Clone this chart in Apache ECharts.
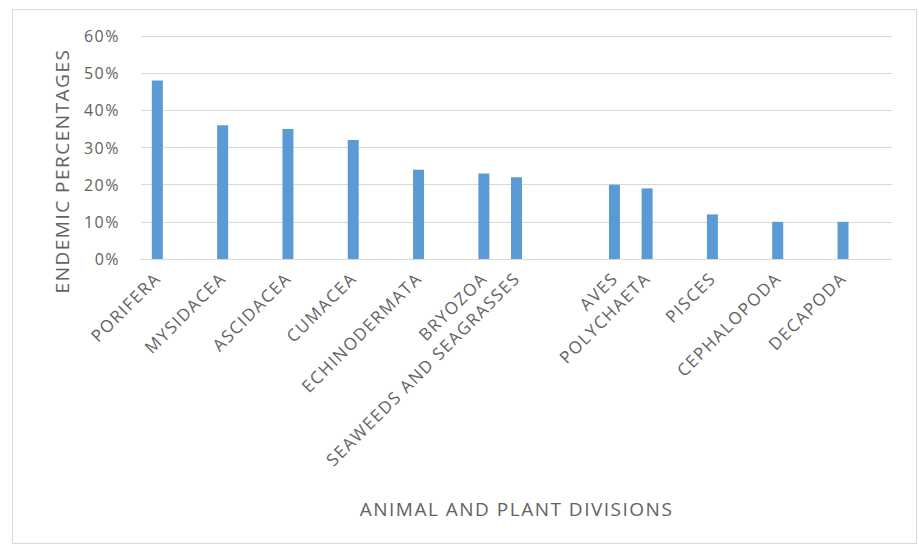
<!DOCTYPE html>
<html>
<head>
<meta charset="utf-8">
<script src="https://cdn.jsdelivr.net/npm/echarts@6/dist/echarts.min.js"></script>
<style>
  html, body { margin: 0; padding: 0; background: #fff; }
  #chart { width: 919px; height: 550px; }
  /* slightly tracked lettering for all chart text */
  #chart svg text { letter-spacing: 1.5px; }
</style>
</head>
<body>
<div id="chart"></div>
<script>
// Divisions in plotting order; blank entries are empty slots on the axis
const divisions = [
  'PORIFERA', '', 'MYSIDACEA', '', 'ASCIDACEA', '', 'CUMACEA', '', 'ECHINODERMATA', '',
  'BRYOZOA', 'SEAWEEDS AND SEAGRASSES', '', '', 'AVES', 'POLYCHAETA', '', 'PISCES', '',
  'CEPHALOPODA', '', 'DECAPODA', ''
];
// Endemic share (%) per division; null for empty slots
const endemicPct = [
  48, null, 36, null, 35, null, 32, null, 24, null,
  23, 22, null, null, 20, 19, null, 12, null,
  10, null, 10, null
];
const yTicks = [0, 10, 20, 30, 40, 50, 60];

const FONT = '"Open Sans", "Liberation Sans", sans-serif';
const TEXT = '#626262';

const chart = echarts.init(document.getElementById('chart'), null, { renderer: 'svg' });
chart.setOption({
  backgroundColor: '#ffffff',
  animation: false,
  grid: { left: 141, right: 27, top: 36, bottom: 291, containLabel: false },
  graphic: [
    {
      type: 'rect',
      shape: { x: 12.5, y: 9.5, width: 904, height: 534 },
      style: { fill: 'none', stroke: '#d9d9d9', lineWidth: 1 },
      silent: true
    },
    {
      type: 'text',
      x: 62, y: 171,
      rotation: Math.PI / 2,
      style: {
        text: 'ENDEMIC PERCENTAGES',
        font: '19px ' + FONT,
        fill: TEXT,
        textAlign: 'center',
        textVerticalAlign: 'middle'
      },
      silent: true
    }
  ],
  xAxis: {
    type: 'category',
    data: divisions,
    name: 'ANIMAL AND PLANT DIVISIONS',
    nameLocation: 'middle',
    nameGap: 240,
    nameTextStyle: { fontFamily: FONT, fontSize: 19, color: TEXT },
    axisLine: { lineStyle: { color: '#d9d9d9', width: 1 } },
    axisTick: { show: false },
    axisLabel: {
      interval: 0,
      rotate: 45,
      margin: 16,
      fontFamily: FONT,
      fontSize: 17,
      color: TEXT
    }
  },
  yAxis: {
    type: 'value',
    min: yTicks[0],
    max: yTicks[yTicks.length - 1],
    interval: 10,
    axisLine: { show: false },
    axisTick: { show: false },
    splitLine: { lineStyle: { color: '#d9d9d9', width: 1 } },
    axisLabel: {
      margin: 21,
      fontFamily: FONT,
      fontSize: 16,
      color: TEXT,
      formatter: v => v + '%'
    }
  },
  series: [{
    type: 'bar',
    data: endemicPct,
    barWidth: 11,
    itemStyle: { color: '#5b9bd5' }
  }]
});
</script>
</body>
</html>
